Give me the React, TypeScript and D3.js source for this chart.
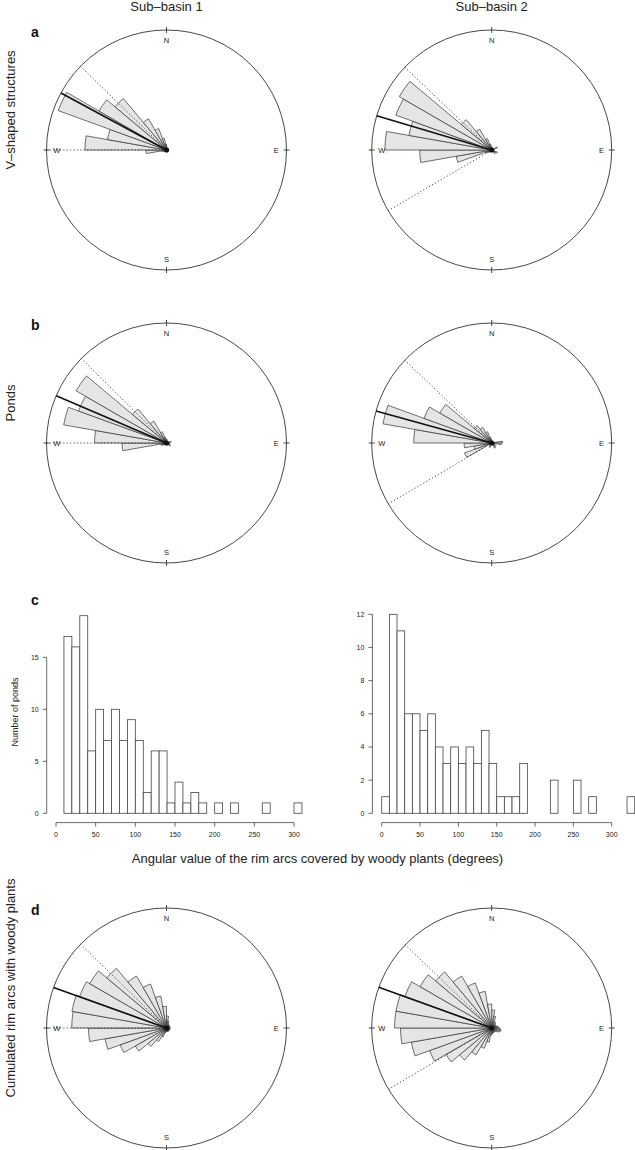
import React from "react";
import * as d3 from "d3";

// ---------- Data ----------
const columnTitles = ["Sub\u2013basin 1", "Sub\u2013basin 2"];
const rowLabels = ["V\u2013shaped structures", "Ponds", "Cumulated rim arcs with woody plants"];
const panelLetters = ["a", "b", "c", "d"];
const compass = ["N", "E", "S", "W"];

// rose petal radii (fraction of circle radius), 36 bins of 10°, bin i = [10i, 10i+10) compass degrees
const roseA1 = [0.03, 0, 0, 0, 0, 0, 0.02, 0, 0, 0, 0.02, 0, 0, 0, 0, 0, 0, 0, 0, 0, 0, 0, 0, 0, 0.02, 0.04, 0.17, 0.68, 0.5, 0.96, 0.65, 0.56, 0.3, 0.19, 0.1, 0.05];
const roseA2 = [0.02, 0, 0, 0, 0, 0, 0.05, 0, 0, 0, 0, 0.05, 0, 0.04, 0, 0, 0, 0, 0, 0, 0, 0, 0, 0.03, 0.05, 0.3, 0.6, 0.89, 0.7, 0.85, 0.89, 0.33, 0.2, 0.1, 0.05, 0.03];
const roseB1 = [0.03, 0, 0, 0, 0, 0, 0, 0.04, 0, 0, 0.03, 0, 0.04, 0, 0, 0, 0, 0, 0, 0, 0, 0, 0, 0, 0.04, 0.05, 0.37, 0.6, 0.87, 0.78, 0.87, 0.37, 0.21, 0.1, 0.05, 0.03];
const roseB2 = [0.02, 0, 0, 0, 0, 0, 0, 0, 0.09, 0.08, 0, 0, 0.04, 0, 0.05, 0, 0, 0, 0, 0, 0.04, 0, 0, 0, 0.24, 0.15, 0.23, 0.65, 0.92, 0.6, 0.5, 0.19, 0.15, 0.1, 0.05, 0.03];
const roseD1 = [0.1, 0.06, 0.04, 0.03, 0.03, 0.03, 0.03, 0.03, 0.03, 0.03, 0.03, 0.03, 0.03, 0.03, 0.03, 0.03, 0.03, 0.03, 0.03, 0.04, 0.08, 0.13, 0.2, 0.3, 0.41, 0.52, 0.65, 0.79, 0.8, 0.77, 0.74, 0.65, 0.5, 0.39, 0.27, 0.18];
const roseD2 = [0.15, 0.1, 0.06, 0.05, 0.04, 0.04, 0.04, 0.05, 0.06, 0.07, 0.08, 0.07, 0.05, 0.04, 0.04, 0.04, 0.04, 0.05, 0.06, 0.12, 0.18, 0.26, 0.35, 0.44, 0.55, 0.68, 0.76, 0.81, 0.81, 0.77, 0.69, 0.61, 0.5, 0.4, 0.31, 0.2];

// mean direction and confidence bounds (compass degrees)
const meanDirs = [298.4, 286.6, 293.2, 285.5, 289.7, 289.8];
const ciLower = [270, 239.6, 270, 239.5, 270, 239.3];
const ciUpper = [314.2, 313.6, 314.8, 313.6, 314.3, 313.9];

// histograms
const hist1Start = 10;
const hist1Counts = [17, 16, 19, 6, 10, 7, 10, 7, 9, 7, 2, 6, 6, 1, 3, 1, 2, 1, 0, 1, 0, 1, 0, 0, 0, 1, 0, 0, 0, 1];
const hist2Start = 0;
const hist2Counts = [1, 12, 11, 6, 6, 5, 6, 4, 3, 4, 3, 4, 3, 5, 3, 1, 1, 1, 3, 0, 0, 0, 2, 0, 0, 2, 0, 1, 0, 0, 0, 0, 1];
const binWidth = 10;
const histXTicks = [0, 50, 100, 150, 200, 250, 300];
const hist1YTicks = [0, 5, 10, 15];
const hist2YTicks = [0, 2, 4, 6, 8, 10, 12];
const histXLabel = "Angular value of the rim arcs covered by woody plants (degrees)";
const histYLabel = "Number of ponds";

// ---------- Layout ----------
const W = 635;
const H = 1150;
const FONT = "'Liberation Sans', Arial, Helvetica, sans-serif";
const R = 120;
const colX = [166.5, 491.7];
const rowY = [150, 443, 1028];

function Rose({ cx, cy, petals, mean, lo, hi }: { cx: number; cy: number; petals: number[]; mean: number; lo: number; hi: number }) {
  const rScale = d3.scaleLinear().domain([0, 1]).range([0, R]);
  const aScale = d3.scaleLinear().domain([0, 360]).range([0, 2 * Math.PI]);
  const arc = d3.arc<any>();
  const pt = (deg: number, frac: number) => {
    const a = aScale(deg);
    return [cx + rScale(frac) * Math.sin(a), cy - rScale(frac) * Math.cos(a)];
  };
  const line = (deg: number) => {
    const [x, y] = pt(deg, 1);
    return { x1: cx, y1: cy, x2: x, y2: y };
  };
  const ticks = [0, 90, 180, 270];
  return (
    <g>
      <circle cx={cx} cy={cy} r={R} fill="none" stroke="#333" strokeWidth={0.9} />
      {ticks.map((t, i) => {
        const [x1, y1] = pt(t, 0.975);
        const [x2, y2] = pt(t, 1.025);
        const [lx, ly] = pt(t, 0.915);
        return (
          <g key={t}>
            <line x1={x1} y1={y1} x2={x2} y2={y2} stroke="#333" strokeWidth={0.9} />
            <text x={lx} y={ly} fontSize={7.5} fontFamily={FONT} textAnchor="middle" dominantBaseline="central" fill="#222">
              {compass[i]}
            </text>
          </g>
        );
      })}
      {petals.map((v, i) =>
        v > 0 ? (
          <path
            key={i}
            transform={`translate(${cx},${cy})`}
            d={arc({ innerRadius: 0, outerRadius: rScale(v), startAngle: aScale(i * 10), endAngle: aScale(i * 10 + 10) }) as string}
            fill="#e5e5e5"
            stroke="#333"
            strokeWidth={0.7}
          />
        ) : null
      )}
      <line {...line(lo)} stroke="#333" strokeWidth={0.9} strokeDasharray="1.2,2.2" />
      <line {...line(hi)} stroke="#333" strokeWidth={0.9} strokeDasharray="1.2,2.2" />
      <line {...line(mean)} stroke="#111" strokeWidth={1.6} />
      <circle cx={cx} cy={cy} r={2.6} fill="#111" />
    </g>
  );
}

function Histogram({ x0, x1, yMax, yTop, start, counts, yTicks, yLabel }: { x0: number; x1: number; yMax: number; yTop: number; start: number; counts: number[]; yTicks: number[]; yLabel?: string }) {
  const base = 813.3;
  const x = d3.scaleLinear().domain([0, 300]).range([x0, x1]);
  const y = d3.scaleLinear().domain([0, yMax]).range([base, yTop]);
  const axisX = x0 - 9.3;
  const axisY = base + 9.3;
  return (
    <g fontFamily={FONT}>
      {counts.map((c, i) => {
        const b = start + i * binWidth;
        return <rect key={i} x={x(b)} y={y(c)} width={x(b + binWidth) - x(b)} height={base - y(c)} fill="#fff" stroke="#444" strokeWidth={0.8} />;
      })}
      <line x1={axisX} x2={axisX} y1={y(0)} y2={y(yTicks[yTicks.length - 1])} stroke="#444" strokeWidth={0.8} />
      {yTicks.map((t) => (
        <g key={t}>
          <line x1={axisX - 4} x2={axisX} y1={y(t)} y2={y(t)} stroke="#444" strokeWidth={0.8} />
          <text x={axisX - 8} y={y(t)} fontSize={7} textAnchor="end" dominantBaseline="central" fill="#222">
            {t}
          </text>
        </g>
      ))}
      <line x1={x(0)} x2={x(300)} y1={axisY} y2={axisY} stroke="#444" strokeWidth={0.8} />
      {histXTicks.map((t) => (
        <g key={t}>
          <line x1={x(t)} x2={x(t)} y1={axisY} y2={axisY + 4} stroke="#444" strokeWidth={0.8} />
          <text x={x(t)} y={axisY + 14} fontSize={7} textAnchor="middle" fill="#222">
            {t}
          </text>
        </g>
      ))}
      {yLabel ? (
        <text transform={`translate(18,712) rotate(-90)`} fontSize={9} textAnchor="middle" fill="#222">
          {yLabel}
        </text>
      ) : null}
    </g>
  );
}

export default function App() {
  const roses = [roseA1, roseA2, roseB1, roseB2, roseD1, roseD2];
  const roseRows = [0, 1, 2];
  const letterY = [37, 330, 605, 915];
  return (
    <svg width={W} height={H} style={{ position: "absolute", left: 0, top: 0, background: "#fff" }} fontFamily={FONT}>
      <rect x={0} y={0} width={W} height={H} fill="#fff" />
      {columnTitles.map((t, i) => (
        <text key={t} x={colX[i]} y={10.5} fontSize={13} textAnchor="middle" fill="#222">
          {t}
        </text>
      ))}
      {panelLetters.map((l, i) => (
        <text key={l} x={31} y={letterY[i]} fontSize={14} fontWeight="bold" fill="#111">
          {l}
        </text>
      ))}
      {roseRows.map((r) => (
        <text key={r} transform={`translate(15,${rowY[r] - 40}) rotate(-90)`} fontSize={13} textAnchor="middle" fill="#222">
          {rowLabels[r]}
        </text>
      ))}
      {roseRows.map((r) =>
        [0, 1].map((c) => {
          const k = r * 2 + c;
          return <Rose key={k} cx={colX[c]} cy={rowY[r]} petals={roses[k]} mean={meanDirs[k]} lo={ciLower[k]} hi={ciUpper[k]} />;
        })
      )}
      <Histogram x0={56} x1={294} yMax={15} yTop={657.3} start={hist1Start} counts={hist1Counts} yTicks={hist1YTicks} yLabel={histYLabel} />
      <Histogram x0={381.7} x1={611.7} yMax={12} yTop={614.3} start={hist2Start} counts={hist2Counts} yTicks={hist2YTicks} />
      <text x={W / 2} y={863} fontSize={13} textAnchor="middle" fill="#222">
        {histXLabel}
      </text>
    </svg>
  );
}
